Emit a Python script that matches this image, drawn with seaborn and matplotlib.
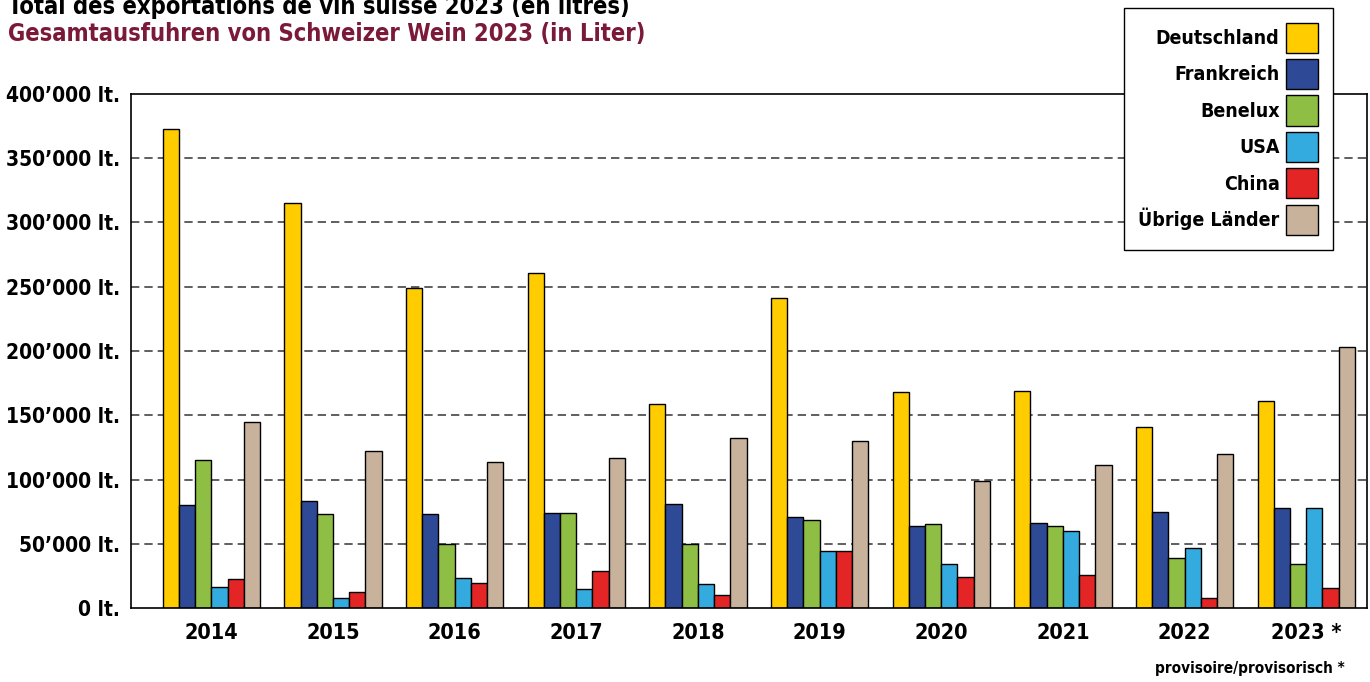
import pandas as pd
import matplotlib
matplotlib.use('Agg')
import matplotlib.pyplot as plt
import seaborn as sns

## DATA
years = ['2014', '2015', '2016', '2017', '2018', '2019', '2020', '2021', '2022', '2023 *']
countries = ['Deutschland', 'Frankreich', 'Benelux', 'USA', 'China', 'Übrige Länder']
deutschland = [373000, 315000, 249000, 261000, 159000, 241000, 168000, 169000, 141000, 161000]
frankreich = [80000, 83000, 73000, 74000, 81000, 71000, 64000, 66000, 75000, 78000]
benelux = [115000, 73000, 50000, 74000, 50000, 68500, 65000, 64000, 39000, 34000]
usa = [16500, 8000, 23000, 14500, 18500, 44500, 34500, 60000, 47000, 78000]
china = [22500, 12500, 19500, 29000, 10000, 44000, 24500, 26000, 8000, 15500]
uebrige = [145000, 122500, 114000, 117000, 132500, 130000, 98500, 111000, 119500, 203000]
colors = ['#FFCC00', '#2E4A96', '#8FBE44', '#33ABDE', '#E32526', '#C8B29B']
yticks = [0, 50000, 100000, 150000, 200000, 250000, 300000, 350000, 400000]
ytick_labels = ["0 lt.", "50’000 lt.", "100’000 lt.", "150’000 lt.", "200’000 lt.",
                "250’000 lt.", "300’000 lt.", "350’000 lt.", "400’000 lt."]

# long form table for seaborn
series = [deutschland, frankreich, benelux, usa, china, uebrige]
rows = []
for country, vals in zip(countries, series):
    for year, v in zip(years, vals):
        rows.append({'year': year, 'country': country, 'liters': v})
df = pd.DataFrame(rows)

## PLOT
sns.set_style('white')
plt.rcParams['font.family'] = ['DejaVu Sans']
plt.rcParams['font.stretch'] = 'condensed'
plt.rcParams['font.weight'] = 'bold'
plt.rcParams['text.color'] = 'black'
plt.rcParams['xtick.color'] = 'black'
plt.rcParams['ytick.color'] = 'black'

fig = plt.figure(figsize=(13.7, 6.82), dpi=100)
ax = fig.add_axes([131 / 1370, 74 / 682, 1236 / 1370, 514 / 682])

sns.barplot(data=df, x='year', y='liters', hue='country', order=years, hue_order=countries,
            palette=colors, width=0.8, edgecolor='black', linewidth=1, saturation=1, ax=ax)

ax.set_ylim(0, 400000)
ax.set_xlim(-0.66, 9.5)
ax.set_yticks(yticks)
ax.set_yticklabels(ytick_labels, fontsize=15, fontweight='bold')
ax.set_xticks(range(len(years)))
ax.set_xticklabels(years, fontsize=15.5, fontweight='bold')
ax.tick_params(axis='y', length=0, pad=8)
ax.tick_params(axis='x', length=0, pad=11)
ax.set_xlabel('')
ax.set_ylabel('')

for y in yticks[1:-1]:
    ax.axhline(y, color='#444444', linestyle=(0, (5, 3)), linewidth=1.2, zorder=0)
ax.set_axisbelow(True)
for s in ax.spines.values():
    s.set_color('black')
    s.set_linewidth(1.2)

# legend: labels left, patches right
handles, labels = ax.get_legend_handles_labels()
leg = ax.legend(handles, labels, loc='upper right', bbox_to_anchor=(1333 / 1370, 1 - 8 / 682),
                bbox_transform=fig.transFigure, borderaxespad=0, markerfirst=False,
                fancybox=False, framealpha=1, edgecolor='black',
                prop={'size': 14, 'weight': 'bold'},
                handlelength=1.65, handleheight=2.0, labelspacing=0.33, borderpad=0.75,
                handletextpad=0.35)
leg.get_frame().set_linewidth(1)
leg.set_zorder(10)

fig.text(8 / 1370, 1 - 14 / 682, 'Total des exportations de vin suisse 2023 (en litres)',
         fontsize=17, fontweight='bold', color='black', va='baseline', ha='left')
fig.text(8 / 1370, 1 - 41 / 682, 'Gesamtausfuhren von Schweizer Wein 2023 (in Liter)',
         fontsize=17, fontweight='bold', color='#7A1A38', va='baseline', ha='left')
fig.text(1345 / 1370, 1 - 668 / 682, 'provisoire/provisorisch *', fontsize=11,
         fontweight='bold', ha='right', va='center')

fig.savefig('out.png', dpi=100)
